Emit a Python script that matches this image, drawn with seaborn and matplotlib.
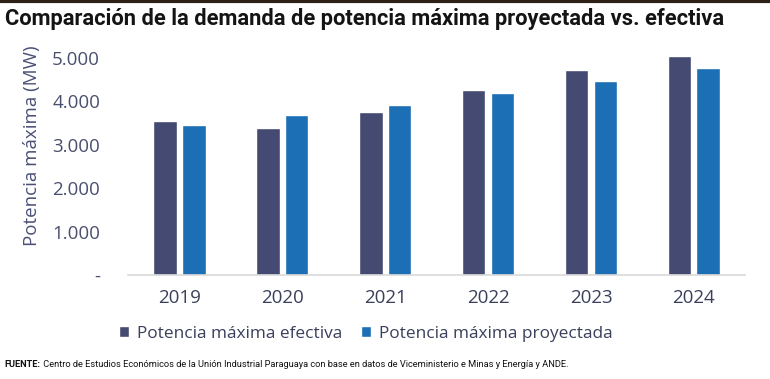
"""Demanda de potencia máxima proyectada vs. efectiva (Paraguay)."""

import matplotlib
matplotlib.use("Agg")
import matplotlib.pyplot as plt
from matplotlib.ticker import FuncFormatter
import pandas as pd
import seaborn as sns

years = ["2019", "2020", "2021", "2022", "2023", "2024"]
efectiva = [3550, 3380, 3745, 4255, 4720, 5025]
proyectada = [3450, 3685, 3920, 4190, 4455, 4760]
series_names = ["Potencia máxima efectiva", "Potencia máxima proyectada"]
y_ticks = [0, 1000, 2000, 3000, 4000, 5000]

title = "Comparación de la demanda de potencia máxima proyectada vs. efectiva"
source_bold = "FUENTE:"
source_text = (" Centro de Estudios Económicos de la Unión Industrial Paraguaya "
               "con base en datos de Viceministerio e Minas y Energía y ANDE.")

sns.set_theme(style="white")
plt.rcParams["font.family"] = ["Open Sans", "DejaVu Sans"]

df = pd.DataFrame({
    "year": years * 2,
    "value": efectiva + proyectada,
    "serie": [series_names[0]] * len(years) + [series_names[1]] * len(years),
})
palette = {series_names[0]: "#444a72", series_names[1]: "#1c6fb5"}

fig = plt.figure(figsize=(7.7, 3.79), dpi=100)
ax = fig.add_axes([0.166, 0.274, 0.802, 0.62])
sns.barplot(data=df, x="year", y="value", hue="serie", palette=palette,
            width=0.56, gap=0.18, saturation=1, ax=ax, legend=True)

ax.set_ylim(0, 5400)
ax.set_yticks(y_ticks)
ax.yaxis.set_major_formatter(FuncFormatter(
    lambda v, _: "-" if v == 0 else f"{int(v):,}".replace(",", ".")))
ax.tick_params(axis="y", length=0, pad=20, labelsize=13.5, labelcolor="#4a4f6e")
ax.tick_params(axis="x", length=0, pad=10, labelsize=13.5, labelcolor="#3a3f5c")
ax.set_xlabel("")
ax.set_ylabel("Potencia máxima (MW)", fontsize=13.5, color="#4a4f78")
ax.yaxis.set_label_coords(-0.141, 0.55)
for side in ["top", "right", "left"]:
    ax.spines[side].set_visible(False)
ax.spines["bottom"].set_color("#d9d9d9")
ax.spines["bottom"].set_linewidth(1.2)

handles, labels = ax.get_legend_handles_labels()
ax.legend(handles, labels, loc="center", bbox_to_anchor=(0.475, 0.12),
          bbox_transform=fig.transFigure, ncol=2, frameon=False,
          fontsize=12.4, handlelength=0.6, handleheight=0.6, handletextpad=0.45,
          columnspacing=1.1, labelcolor="#3a3f5c")

fig.add_artist(plt.Line2D([0, 1], [0.997, 0.997], color="#2b2118", lw=3,
                          transform=fig.transFigure))


def fit_width(text, width_px):
    # shrink a text until it spans the wanted width in pixels
    fig.canvas.draw()
    w = text.get_window_extent().width
    text.set_fontsize(text.get_fontsize() * width_px / w)


t_title = fig.text(0.006, 0.95, title, fontsize=19, fontweight="bold",
                   family=["Roboto", "DejaVu Sans"], color="#141414",
                   va="center", ha="left")
fit_width(t_title, 718)

t_bold = fig.text(0.006, 0.037, source_bold, fontsize=7, fontweight="bold",
                  family=["Roboto", "DejaVu Sans"], color="#111111",
                  va="center", ha="left")
t_src = fig.text(0.06, 0.037, source_text, fontsize=7,
                 family=["Roboto", "DejaVu Sans"], color="#111111",
                 va="center", ha="left")
fig.canvas.draw()
scale = 565 / (t_bold.get_window_extent().width + t_src.get_window_extent().width)
t_bold.set_fontsize(7 * scale)
t_src.set_fontsize(7 * scale)
fig.canvas.draw()
t_src.set_x(t_bold.get_window_extent().x1 / fig.bbox.width)

fig.savefig("out.png", dpi=100)
